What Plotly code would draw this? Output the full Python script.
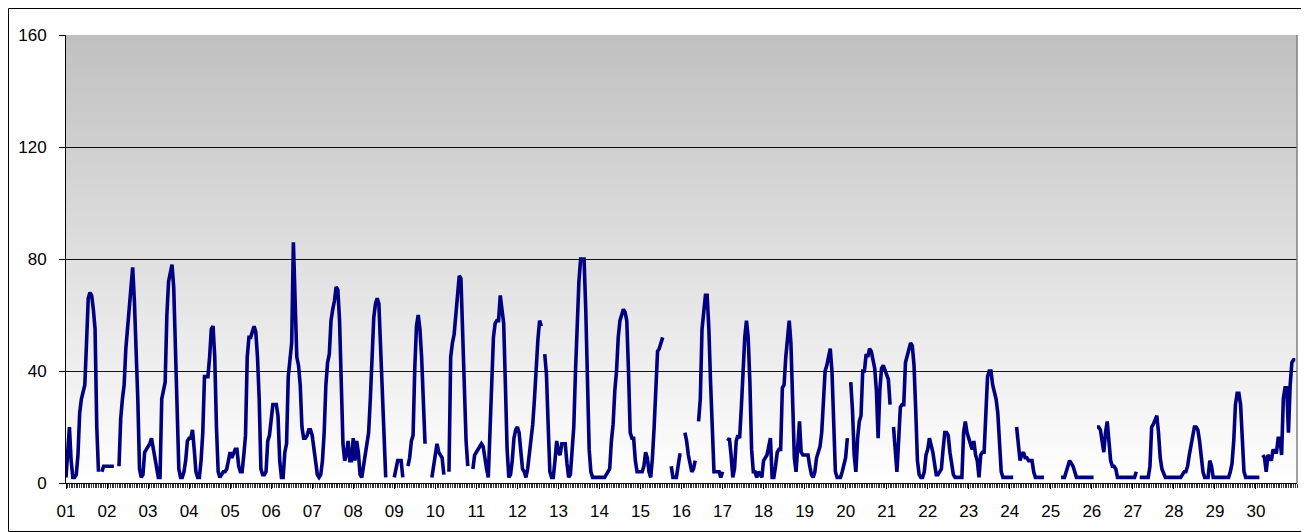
import plotly.graph_objects as go

# ---- data: hourly values per day (None = missing) ----
day_labels = [f"{d:02d}" for d in range(1, 31)]
y_ticks = [0, 40, 80, 120, 160]

d01 = [2,10,20,8,2,2,3,10,25,30,33,35,50,66,68,67,62,55,20,4,None,4,6,6]
d02 = [6,6,6,6,6,None,None,6,23,30,35,48,55,65,72,77,65,50,30,5,2,3,11,12]
d03 = [13,14,16,12,10,5,2,2,30,33,36,60,72,75,78,70,48,22,5,2,2,4,8,15]
d04 = [16,16,19,12,4,2,2,8,18,38,38,38,45,55,56,45,20,4,2,3,4,4,5,8]
d05 = [11,9,11,12,12,6,4,4,10,17,45,52,52,54,56,54,45,30,5,3,3,4,15,17]
d06 = [22,28,28,28,24,8,2,2,11,14,38,46,50,86,68,45,42,35,20,16,16,17,19,19]
d07 = [17,13,8,3,2,3,8,18,35,43,46,58,62,65,70,69,58,30,14,8,10,15,8,8]
d08 = [16,8,15,11,3,2,6,11,15,18,30,42,59,64,66,64,50,30,15,2,None,None,None,None]
d09 = [2,6,8,8,8,2,None,None,6,9,15,17,41,56,60,55,45,25,14,None,None,None,2,6]
d10 = [10,14,11,10,9,3,None,None,4,45,50,53,60,68,74,73,50,30,15,6,None,None,5,10]
d11 = [11,12,13,14,13,8,5,2,20,35,52,57,58,58,67,62,57,35,12,2,3,8,16,19]
d12 = [20,18,10,5,4,2,5,10,15,21,30,42,51,58,56,None,46,39,21,4,2,2,8,15]
d13 = [11,10,14,14,14,7,2,3,10,20,40,60,72,80,80,80,62,35,12,4,2,2,2,2]
d14 = [2,2,2,2,3,4,5,15,21,33,40,52,58,60,62,61,58,40,18,16,16,8,4,4]
d15 = [4,4,6,11,9,4,2,9,20,35,47,48,50,52,None,None,None,None,6,2,2,2,6,10]
d16 = [10,None,18,15,10,6,4,5,8,None,22,30,55,62,67,67,55,36,15,4,4,4,4,2]
d17 = [4,None,None,15,16,10,2,5,15,17,16,27,42,52,58,52,36,12,4,4,2,4,3,2]
d18 = [8,9,10,13,16,2,2,6,11,12,12,34,35,45,52,58,50,25,9,4,15,22,11,10]
d19 = [10,10,10,6,3,2,4,9,11,13,18,30,40,42,45,48,40,20,4,2,2,2,4,6]
d20 = [9,16,None,36,26,10,4,16,22,24,40,40,46,45,48,47,43,41,33,16,33,41,42,40]
d21 = [39,37,28,None,20,10,4,15,27,28,28,43,45,48,50,49,42,26,8,3,2,2,4,10]
d22 = [12,16,14,11,7,3,3,4,5,12,18,18,17,11,7,3,2,2,2,2,2,18,22,18]
d23 = [16,15,12,15,10,8,2,10,11,11,22,38,40,40,35,32,30,25,15,4,2,2,2,2]
d24 = [2,2,2,None,20,14,8,10,11,9,9,8,8,8,4,2,2,2,2,2,2,None,None,None]
d25 = [None,None,None,None,None,None,2,2,2,4,6,8,7,6,4,2,2,2,2,2,2,2,2,2]
d26 = [2,2,None,20,20,19,14,11,18,22,15,8,6,6,5,2,2,2,2,2,2,2,2,2]
d27 = [2,2,4,None,2,2,2,2,2,2,6,20,21,23,24,18,9,5,3,2,2,2,2,2]
d28 = [2,2,2,2,2,3,4,4,6,10,14,18,20,20,19,15,8,4,2,2,2,8,6,2]
d29 = [2,2,2,2,2,2,2,2,2,4,7,15,28,32,32,28,15,4,2,2,2,2,2,2]
d30 = [2,2,2,None,10,9,4,10,9,8,12,11,11,16,16,10,30,34,34,18,35,43,44,44]

days = [d01, d02, d03, d04, d05, d06, d07, d08, d09, d10,
        d11, d12, d13, d14, d15, d16, d17, d18, d19, d20,
        d21, d22, d23, d24, d25, d26, d27, d28, d29, d30]

values = [v for d in days for v in d]
hours = list(range(len(values)))
day_starts = [24 * i for i in range(len(days))]

FONT = "Liberation Sans, Arial, sans-serif"

# figure geometry (page adds an 8px body offset)
W, H = 1301, 524
ML, MR, MT, MB = 58, 12, 27, 49
PW, PH = W - ML - MR, H - MT - MB

def px_x(p):  # figure pixel -> paper x
    return (p - ML) / PW

def px_y(p):  # figure pixel -> paper y
    return (MT + PH - p) / PH

fig = go.Figure()
fig.add_trace(go.Scatter(
    x=hours, y=values, mode="lines", connectgaps=False,
    line=dict(color="#000080", width=3.6), hoverinfo="skip",
))

# vertical gradient background (grey top -> white bottom)
shapes = []
n = 80
for i in range(n):
    t = (i + 0.5) / n
    c = int(round(255 - t * (255 - 192)))
    shapes.append(dict(type="rect", xref="x domain", yref="y domain",
                       x0=0, x1=1, y0=i / n, y1=min(1, (i + 1) / n + 0.003),
                       fillcolor=f"rgb({c},{c},{c})", line=dict(width=0),
                       layer="below"))
# right border of plot area
shapes.append(dict(type="line", xref="x domain", yref="y domain",
                   x0=1, x1=1, y0=0, y1=1, line=dict(color="#808080", width=1.5)))
# outer chart frame
shapes.append(dict(type="rect", xref="paper", yref="paper",
                   x0=px_x(0.5), x1=px_x(1297), y0=px_y(523.5), y1=px_y(0.5),
                   line=dict(color="black", width=1), fillcolor="rgba(0,0,0,0)",
                   layer="above"))

fig.update_layout(
    width=W, height=H,
    margin=dict(l=ML, r=MR, t=MT, b=MB),
    paper_bgcolor="white", plot_bgcolor="white",
    showlegend=False,
    shapes=shapes,
    font=dict(family=FONT, size=17, color="black"),
    xaxis=dict(
        range=[0, 720], tickmode="array", tickvals=day_starts, ticktext=day_labels,
        ticks="outside", ticklen=5, tickcolor="black", tickwidth=1,
        showgrid=False, zeroline=False,
        showline=True, linecolor="black", linewidth=1,
        tickfont=dict(family=FONT, size=17, color="black"),
        ticklabelstandoff=8,
        automargin=False,
        minor=dict(tickmode="linear", tick0=0, dtick=1, ticks="outside",
                   ticklen=4, tickcolor="#333333", tickwidth=1, showgrid=False),
    ),
    yaxis=dict(
        range=[0, 160], tickmode="array", tickvals=y_ticks,
        ticks="outside", ticklen=6, tickcolor="black",
        showgrid=True, gridcolor="#111111", gridwidth=1,
        zeroline=False, showline=True, linecolor="black", linewidth=1,
        tickfont=dict(family=FONT, size=17, color="black"),
        ticklabelstandoff=9,
        automargin=False,
    ),
)

fig.write_html("out.html")
